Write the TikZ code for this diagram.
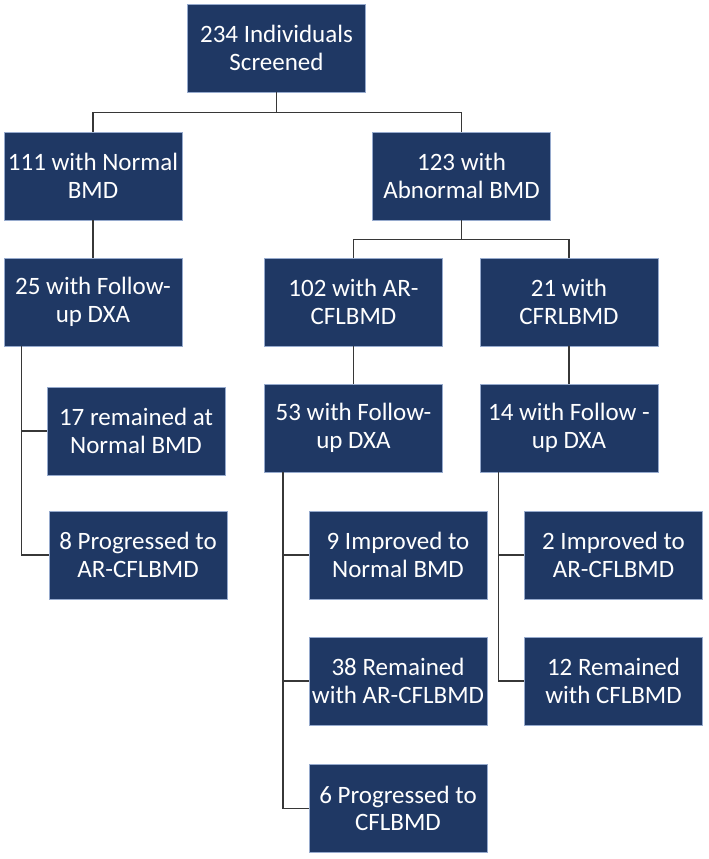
\documentclass[tikz,border=0pt]{standalone}
\usepackage{fontspec}
\setmainfont{Carlito}
\definecolor{boxblue}{RGB}{31,56,100}
\definecolor{boxedge}{RGB}{150,170,205}
\definecolor{linegray}{RGB}{55,55,55}
\begin{document}
\begin{tikzpicture}[x=1pt,y=-1pt,
	box/.style={fill=boxblue,draw=boxedge,line width=0.6pt,text=white,minimum width=178pt,minimum height=88pt,inner sep=0pt,align=center,font=\fontsize{25}{27.5}\selectfont},
	link/.style={draw=linegray,line width=1.5pt}]
	\useasboundingbox (0,0) rectangle (709,859);
	% boxes
	\node[box] (scr) at (276.5,48) {234 Individuals\\Screened};
	\node[box] (nrm) at (93,176) {111 with Normal\\BMD};
	\node[box] (abn) at (461.5,176) {123 with\\Abnormal BMD};
	\node[box] (fuN) at (93,302) {25 with Follow-\\up DXA};
	\node[box] (arc) at (353.5,302) {102 with AR-\\CFLBMD};
	\node[box] (cfr) at (569,302) {21 with\\CFRLBMD};
	\node[box] (remN) at (136,431) {17 remained at\\Normal BMD};
	\node[box] (proN) at (138,555) {8 Progressed to\\AR-CFLBMD};
	\node[box] (fuA) at (353.5,428) {53 with Follow-\\up DXA};
	\node[box] (fuC) at (569,428) {14 with Follow -\\up DXA};
	\node[box] (impA) at (398,555) {9 Improved to\\Normal BMD};
	\node[box] (remA) at (398,681) {38 Remained\\with AR-CFLBMD};
	\node[box] (proA) at (398,808.5) {6 Progressed to\\CFLBMD};
	\node[box] (impC) at (613.5,555) {2 Improved to\\AR-CFLBMD};
	\node[box] (remC) at (613.5,681) {12 Remained\\with CFLBMD};
	% connectors
	\draw[link] (scr.south) -- ++(0,20) -| (nrm.north);
	\draw[link] (scr.south) -- ++(0,20) -| (abn.north);
	\draw[link] (nrm.south) -- (fuN.north);
	\draw[link] (abn.south) -- ++(0,19) -| (arc.north);
	\draw[link] (abn.south) -- ++(0,19) -| (cfr.north);
	\draw[link] (arc.south) -- (fuA.north);
	\draw[link] (cfr.south) -- (fuC.north);
	\coordinate (tN) at ([xshift=18pt]fuN.south west);
	\coordinate (tA) at ([xshift=19pt]fuA.south west);
	\coordinate (tC) at ([xshift=19pt]fuC.south west);
	\draw[link] (tN) |- (remN.west);
	\draw[link] (tN) |- (proN.west);
	\draw[link] (tA) |- (impA.west);
	\draw[link] (tA) |- (remA.west);
	\draw[link] (tA) |- (proA.west);
	\draw[link] (tC) |- (impC.west);
	\draw[link] (tC) |- (remC.west);
\end{tikzpicture}
\end{document}
